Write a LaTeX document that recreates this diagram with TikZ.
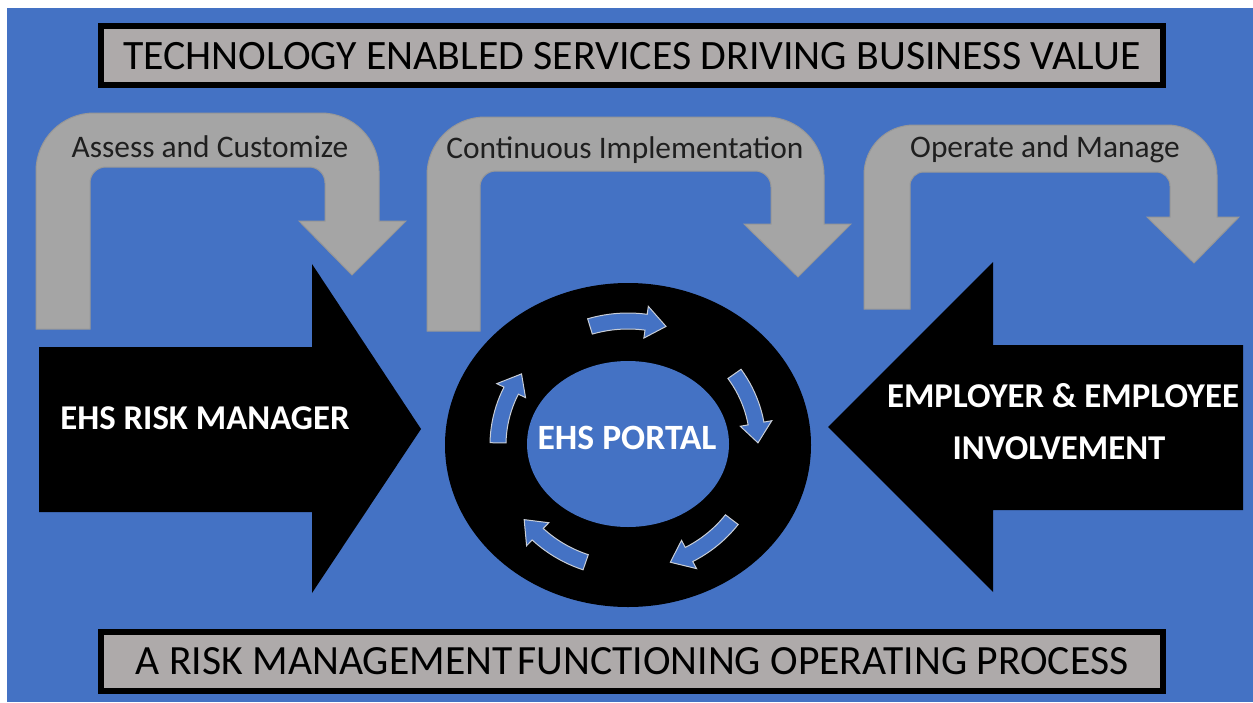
\documentclass[tikz,border=0pt]{standalone}
\usepackage{fontspec}
\setmainfont{Carlito}
\definecolor{bgblue}{HTML}{4472C4}
\definecolor{arrgrey}{HTML}{A5A5A5}
\definecolor{arredge}{HTML}{979797}
\definecolor{boxgrey}{HTML}{AEAAAA}
\definecolor{ringedge}{HTML}{C9CED6}
\begin{document}
\begin{tikzpicture}[x=0.5pt,y=-0.5pt]
\tikzset{
  titlebox/.style={draw=black, fill=boxgrey, line width=3pt},
  titletext/.style={anchor=base, inner sep=0pt, text=black, font=\fontsize{20.9pt}{24pt}\selectfont},
  uturn/.style={fill=arrgrey, draw=arredge, line width=0.5pt},
  uturntext/.style={anchor=base, inner sep=0pt, text=black!88, font=\fontsize{15.7pt}{18pt}\selectfont},
  blackarrow/.style={fill=black},
  whitetext/.style={anchor=base, inner sep=0pt, text=white, font=\bfseries\fontsize{17.4pt}{20pt}\selectfont},
  ringarrow/.style={fill=bgblue, draw=ringedge, line width=0.5pt, line join=miter}
}
\useasboundingbox (0,0) rectangle (1253,702);
\fill[white] (0,0) rectangle (1253,702);
\fill[bgblue] (7,8) rectangle (1253,702);

% title boxes
\draw[titlebox] (101,26) rectangle (1163,85);
\node[titletext] (title) at (632,69) {TECHNOLOGY ENABLED SERVICES DRIVING BUSINESS VALUE};
\draw[titlebox] (101,632) rectangle (1163,690.5);
\node[titletext, font=\fontsize{20.8pt}{24pt}\selectfont] (footer) at (632,674) {A RISK MANAGEMENT\kern0.12em FUNCTIONING OPERATING PROCESS};

% u-turn arrows
\filldraw[uturn] (36,329) -- (36,171) .. controls (36,139) and (62,113) .. (94,113) -- (321,113)
  .. controls (353,113) and (379,139) .. (379,171) -- (379,221) -- (406,221) -- (352,275) -- (299,221) -- (325,221)
  -- (325,183) .. controls (325,174) and (318,167) .. (309,167) -- (106,167) .. controls (97,167) and (90,174) .. (90,183)
  -- (90,329) -- cycle;
\filldraw[uturn] (427,331) -- (427,175) .. controls (427,143) and (453,117) .. (485,117) -- (766,117)
  .. controls (798,117) and (824,143) .. (824,175) -- (824,224) -- (851,224) -- (798,277) -- (744,224) -- (771,224)
  -- (771,187) .. controls (771,178) and (764,171) .. (755,171) -- (496,171) .. controls (487,171) and (480,178) .. (480,187)
  -- (480,331) -- cycle;
\filldraw[uturn] (864,309) -- (864,175) .. controls (864,147) and (886,125) .. (914,125) -- (1167,125)
  .. controls (1195,125) and (1217,147) .. (1217,175) -- (1217,217) -- (1239,217) -- (1194,263) -- (1147,217) -- (1170,217)
  -- (1170,186) .. controls (1170,178) and (1164,172) .. (1156,172) -- (924,172) .. controls (916,172) and (910,178) .. (910,186)
  -- (910,309) -- cycle;
\node[uturntext] (assess) at (210,157) {Assess and Customize};
\node[uturntext] (implement) at (625,158) {Continuous Implementation};
\node[uturntext] (operate) at (1045,157) {Operate and Manage};

% black block arrows
\fill[blackarrow] (39,347) -- (312,347) -- (312,264) -- (421,429) -- (312,593) -- (312,512) -- (39,512) -- cycle;
\fill[blackarrow] (1243,345) -- (993,345) -- (993,262) -- (828,427) -- (993,592) -- (993,510) -- (1243,510) -- cycle;
\node[whitetext] (manager) at (205,429) {EHS RISK MANAGER};
\node[whitetext] (employer) at (1063,407) {EMPLOYER \& EMPLOYEE};
\node[whitetext] (involve) at (1059,459) {INVOLVEMENT};

% donut
\fill[black] (628,445) ellipse [x radius=183, y radius=162];
\fill[bgblue] (628,444) ellipse [x radius=101, y radius=83];
\foreach \c in {90,18,-54,-126,-198} {
  \pgfmathsetmacro\ta{\c+17}
  \pgfmathsetmacro\th{\c-8}
  \pgfmathsetmacro\tb{\c-17}
  \filldraw[ringarrow] plot[domain=\ta:\th, samples=12] ({628+138*cos(\x)},{445-132*sin(\x)})
    -- ({628+146*cos(\th)},{445-140*sin(\th)})
    -- ({628+130*cos(\tb)},{445-124*sin(\tb)})
    -- ({628+114*cos(\th)},{445-108*sin(\th)})
    -- plot[domain=\th:\ta, samples=12] ({628+122*cos(\x)},{445-116*sin(\x)}) -- cycle;
}
\node[whitetext, font=\bfseries\fontsize{17.8pt}{20pt}\selectfont] (portal) at (627,449) {EHS PORTAL};
\end{tikzpicture}
\end{document}
